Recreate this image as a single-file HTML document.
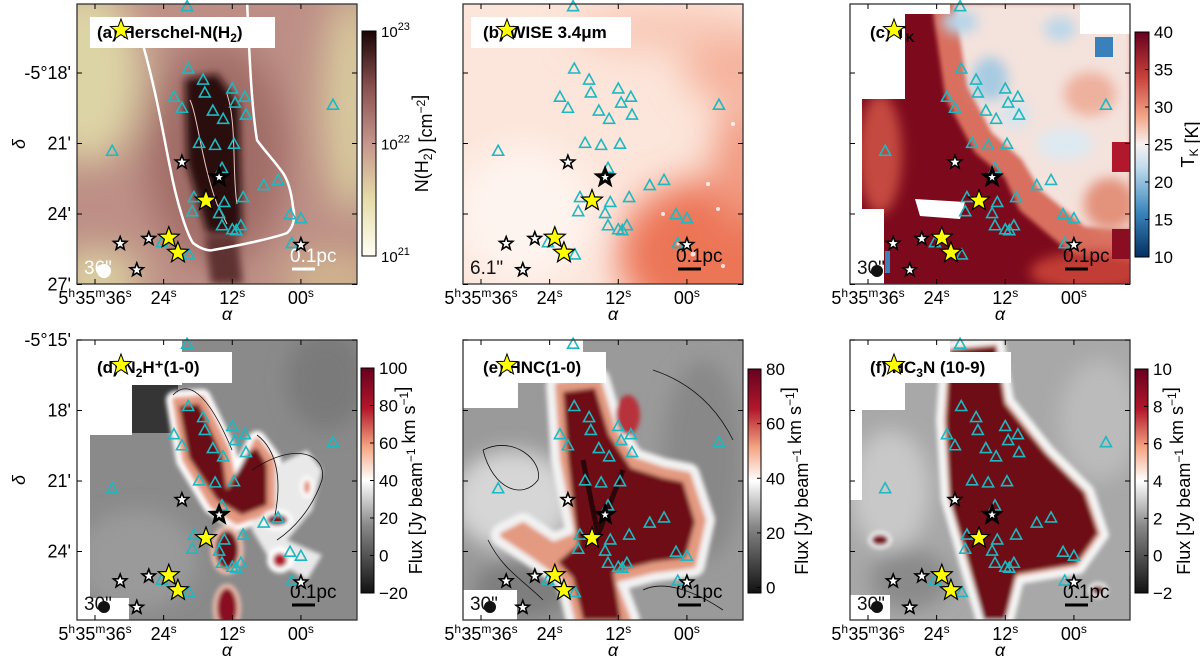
<!DOCTYPE html>
<html><head><meta charset="utf-8"><style>
html,body{margin:0;padding:0;background:#fff;}
svg{display:block;font-family:"Liberation Sans",sans-serif;}
</style></head><body>
<svg id="fig" width="1200" height="660" viewBox="0 0 1200 660" xmlns="http://www.w3.org/2000/svg">
<defs>
<filter id="b2" x="-20%" y="-20%" width="140%" height="140%"><feGaussianBlur stdDeviation="2"/></filter>
<filter id="b4" x="-20%" y="-20%" width="140%" height="140%"><feGaussianBlur stdDeviation="4"/></filter>
<filter id="b6" x="-50%" y="-50%" width="200%" height="200%"><feGaussianBlur stdDeviation="6"/></filter>
<filter id="b10" x="-50%" y="-50%" width="200%" height="200%"><feGaussianBlur stdDeviation="10"/></filter>
<filter id="b18" x="-50%" y="-50%" width="200%" height="200%"><feGaussianBlur stdDeviation="18"/></filter>
<clipPath id="clip"><rect x="0" y="0" width="280" height="280"/></clipPath>
<linearGradient id="gA" x1="0" y1="1" x2="0" y2="0"><stop offset="0" stop-color="#fffff4"/><stop offset="0.25" stop-color="#e6dcaa"/><stop offset="0.5" stop-color="#c4968c"/><stop offset="0.75" stop-color="#8a5050"/><stop offset="1" stop-color="#1a0404"/></linearGradient>
<linearGradient id="gC" x1="0" y1="1" x2="0" y2="0"><stop offset="0" stop-color="#053061"/><stop offset="0.2" stop-color="#3a86bd"/><stop offset="0.4" stop-color="#c2dced"/><stop offset="0.5" stop-color="#f7f2f0"/><stop offset="0.62" stop-color="#f4a88a"/><stop offset="0.8" stop-color="#c7413a"/><stop offset="1" stop-color="#67001f"/></linearGradient>
<linearGradient id="gF" x1="0" y1="1" x2="0" y2="0"><stop offset="0" stop-color="#111"/><stop offset="0.3" stop-color="#888"/><stop offset="0.5" stop-color="#fff"/><stop offset="0.65" stop-color="#f4a582"/><stop offset="0.82" stop-color="#b2182b"/><stop offset="1" stop-color="#67001f"/></linearGradient>
</defs>

<g id="pa" transform="translate(77,4)">
 <g clip-path="url(#clip)">
  <rect width="280" height="280" fill="#bd8f86"/>
  <g filter="url(#b18)">
   <ellipse cx="10" cy="70" rx="55" ry="90" fill="#ddd4a6"/>
   <ellipse cx="275" cy="100" rx="30" ry="110" fill="#d8cb9e"/>
   <ellipse cx="20" cy="275" rx="45" ry="30" fill="#dbd1a2"/>
   <ellipse cx="255" cy="275" rx="50" ry="25" fill="#d2b890"/>
   <ellipse cx="140" cy="150" rx="70" ry="110" fill="#a06c66"/>
  </g>
  <g filter="url(#b4)">
   <polygon points="108,75 140,70 162,100 165,229 130,229 110,160" fill="#2b0f0f"/>
   <polygon points="128,232 160,232 166,280 134,280" fill="#5e3230"/>
  </g>
  <path d="M113,96 C120,110 125,160 140,200 L150,220 M150,90 C160,120 155,170 160,200" stroke="#e8c8c0" stroke-width="1" fill="none"/>
  <path d="M66,41 C80,90 88,140 93,163 C100,200 110,230 116,239 C125,246 133,247 136,246 C170,240 200,233 210,229 C218,222 218,210 216,203 C214,185 210,175 206,169 C196,155 186,145 180,136 C174,100 172,40 170,-4" stroke="#fff" stroke-width="2.5" fill="none"/>
 </g>
</g>

<g id="pb" transform="translate(463,4)">
 <g clip-path="url(#clip)">
  <rect width="280" height="280" fill="#fce5da"/>
  <g filter="url(#b18)">
   <ellipse cx="250" cy="250" rx="95" ry="75" fill="#ec7556"/>
   <ellipse cx="270" cy="60" rx="50" ry="40" fill="#f5b29c"/>
   <ellipse cx="200" cy="25" rx="90" ry="22" fill="#f8c7b5"/>
   <ellipse cx="280" cy="160" rx="30" ry="60" fill="#f19a80"/>
   <ellipse cx="60" cy="210" rx="70" ry="70" fill="#fef4ef"/>
  </g>
  <g fill="#fff" opacity="0.8"><circle cx="200" cy="210" r="2"/><circle cx="230" cy="250" r="2.5"/><circle cx="255" cy="205" r="2"/><circle cx="260" cy="262" r="2"/><circle cx="215" cy="240" r="1.5"/><circle cx="245" cy="180" r="2"/><circle cx="270" cy="120" r="2"/></g>
 </g>
</g>

<g id="pc" transform="translate(850,4)">
 <g clip-path="url(#clip)">
  <rect width="280" height="280" fill="#7d0a1c"/>
  <g filter="url(#b2)">
   <polygon points="95,0 280,0 280,250 230,240 180,198 165,165 135,140 108,90" fill="#d9705e" stroke="#d9705e" stroke-width="26" stroke-linejoin="round"/>
   <polygon points="105,0 280,0 280,225 235,222 190,185 172,155 142,128 118,82" fill="#f4e2dc"/>
  </g>
  <g filter="url(#b6)">
   <ellipse cx="140" cy="75" rx="18" ry="22" fill="#a8cbe2"/>
   <ellipse cx="110" cy="18" rx="18" ry="12" fill="#b8d5e8"/>
   <ellipse cx="210" cy="25" rx="16" ry="12" fill="#bcd7e9"/>
   <ellipse cx="215" cy="140" rx="28" ry="16" fill="#dde9f1"/>
   <ellipse cx="165" cy="110" rx="15" ry="15" fill="#d5e5ef"/>
   <ellipse cx="240" cy="90" rx="26" ry="22" fill="#eeb19e"/>
   <ellipse cx="260" cy="200" rx="26" ry="26" fill="#e3927c"/>
   <ellipse cx="240" cy="268" rx="60" ry="20" fill="#c23c36"/>
   <ellipse cx="30" cy="150" rx="22" ry="60" fill="#c44a40"/>
  </g>
  <rect x="262" y="138" width="18" height="30" fill="#b2182b"/>
  <rect x="262" y="225" width="18" height="30" fill="#8a0d22"/>
  <rect x="0" y="0" width="55" height="95" fill="#fff"/>
  <rect x="55" y="0" width="45" height="10" fill="#fff"/>
  <rect x="0" y="95" width="12" height="110" fill="#fff"/>
  <rect x="0" y="205" width="34" height="75" fill="#fff"/>
  <polygon points="65,195 115,198 110,215 70,212" fill="#fff"/>
  <rect x="230" y="0" width="50" height="30" fill="#fff"/>
  <rect x="245" y="33" width="18" height="20" fill="#3a80bb"/>
  <rect x="35" y="247" width="5" height="22" fill="#3a80bb"/>
 </g>
</g>

<g id="pd" transform="translate(77,340)">
 <g clip-path="url(#clip)">
  <rect width="280" height="280" fill="#8a8a8a"/>
  <g filter="url(#b10)"><ellipse cx="60" cy="220" rx="60" ry="50" fill="#9a9a9a"/><ellipse cx="250" cy="40" rx="40" ry="50" fill="#7a7a7a"/></g>
  <rect x="53" y="43" width="48" height="50" fill="#353535"/>
  <g filter="url(#b2)">
   <path d="M98,60 L125,58 L150,110 L158,150 L170,120 L180,100 L195,120 L195,170 L160,182 L135,165 L108,120 Z" fill="#fff" stroke="#fff" stroke-width="18" stroke-linejoin="round"/>
   <path d="M180,135 L230,110 L245,130 L235,170 L210,200 L245,215 L230,240 L190,215 L175,190 Z" fill="#e9e9e9"/>
   <path d="M98,60 L125,58 L150,110 L158,150 L170,120 L180,100 L195,120 L195,170 L160,182 L135,165 L108,120 Z" fill="#e49a80" stroke="#e49a80" stroke-width="6" stroke-linejoin="round"/>
   <path d="M102,66 L122,64 L145,115 L150,150 L172,112 L180,108 L190,125 L190,165 L165,175 L140,160 L112,118 Z" fill="#6b0a14"/>
   <ellipse cx="150" cy="210" rx="14" ry="22" fill="#6b0a14" stroke="#f0c0b0" stroke-width="5"/>
   <ellipse cx="150" cy="268" rx="12" ry="22" fill="#8a1020" stroke="#f0c0b0" stroke-width="4"/>
   <ellipse cx="200" cy="180" rx="13" ry="8" fill="#7a0a18" stroke="#fff" stroke-width="5"/>
   <ellipse cx="203" cy="220" rx="10" ry="10" fill="#b2182b" stroke="#fff" stroke-width="6"/>
   <ellipse cx="230" cy="147" rx="5" ry="9" fill="#e08060" stroke="#fff" stroke-width="4"/>
  </g>
  <rect x="0" y="0" width="55" height="95" fill="#fff"/>
  <rect x="0" y="0" width="105" height="45" fill="#fff"/>
  <rect x="0" y="95" width="13" height="185" fill="#fff"/>
  <rect x="0" y="258" width="52" height="22" fill="#fff"/>
  <path d="M96,55 C110,40 130,50 155,110 M180,95 C200,110 205,140 198,175 M175,130 C220,100 250,115 245,140 C235,170 215,190 200,200" stroke="#111" stroke-width="0.8" fill="none"/>
 </g>
</g>

<g id="pe" transform="translate(463,340)">
 <g clip-path="url(#clip)">
  <rect width="280" height="280" fill="#9a9a9a"/>
  <g filter="url(#b10)">
   <ellipse cx="50" cy="160" rx="60" ry="50" fill="#d6d6d6"/>
   <ellipse cx="240" cy="120" rx="40" ry="100" fill="#888"/>
   <ellipse cx="60" cy="250" rx="50" ry="30" fill="#7e7e7e"/>
  </g>
  <g filter="url(#b2)">
   <path d="M95,45 L135,40 L150,90 L170,120 L200,130 L225,135 L240,180 L230,225 L190,230 L150,240 L165,280 L115,280 L105,240 L70,215 L40,195 L60,185 L90,205 L115,195 L100,120 Z" fill="#f2f2f2" stroke="#f2f2f2" stroke-width="24" stroke-linejoin="round"/>
   <path d="M95,45 L135,40 L150,90 L170,120 L200,130 L225,135 L240,180 L230,225 L190,230 L150,240 L165,280 L115,280 L105,240 L70,215 L40,195 L60,185 L90,205 L115,195 L100,120 Z" fill="#e39a80" stroke="#e39a80" stroke-width="6" stroke-linejoin="round"/>
   <path d="M100,52 L132,48 L146,95 L168,128 L200,138 L220,142 L232,182 L222,218 L190,222 L150,232 L158,280 L120,280 L110,238 L95,222 L115,205 L105,120 Z" fill="#6e0a16"/>
   <ellipse cx="165" cy="75" rx="12" ry="20" fill="#b8303a"/>
  </g>
  <path d="M120,120 L135,195 L160,130" stroke="#000" stroke-width="5" fill="none" opacity="0.6"/>
  <rect x="0" y="0" width="55" height="68" fill="#fff"/>
  <rect x="0" y="0" width="120" height="42" fill="#fff"/>
  <rect x="0" y="250" width="54" height="30" fill="#fff"/>
  <path d="M20,110 C50,95 80,120 75,140 C60,160 30,150 20,110 M190,30 C220,40 250,60 270,100 M180,250 C200,240 230,250 260,270 M25,200 C40,230 60,240 80,260" stroke="#111" stroke-width="0.8" fill="none"/>
 </g>
</g>

<g id="pf" transform="translate(850,340)">
 <g clip-path="url(#clip)">
  <rect width="280" height="280" fill="#a8a8a8"/>
  <g filter="url(#b10)">
   <ellipse cx="40" cy="150" rx="40" ry="60" fill="#c8c8c8"/>
   <ellipse cx="250" cy="80" rx="40" ry="60" fill="#bbb"/>
   <ellipse cx="60" cy="240" rx="40" ry="30" fill="#8a8a8a"/>
  </g>
  <g filter="url(#b2)">
   <path d="M95,5 L150,0 L160,60 L200,110 L240,150 L255,195 L230,230 L170,240 L160,280 L130,280 L115,230 L95,160 L90,80 Z" fill="#e6a088" stroke="#f4f4f4" stroke-width="8" stroke-linejoin="round"/>
   <path d="M100,10 L146,6 L155,64 L196,114 L234,152 L248,193 L226,224 L166,234 L155,280 L134,280 L120,228 L100,160 L96,80 Z" fill="#6e0a16"/>
   <ellipse cx="30" cy="200" rx="10" ry="7" fill="#7a0a18" stroke="#fff" stroke-width="3"/>
   <ellipse cx="248" cy="250" rx="8" ry="6" fill="#7a0a18" stroke="#fff" stroke-width="3"/>
  </g>
  <rect x="0" y="0" width="55" height="70" fill="#fff"/>
  <rect x="0" y="0" width="100" height="42" fill="#fff"/>
  <rect x="0" y="70" width="12" height="90" fill="#fff"/>
  <rect x="0" y="255" width="40" height="25" fill="#fff"/>
 </g>
</g>

<g id="overlay"></g>
</svg>
<script>
// ---- data (RA seconds after 5h35m, Dec arcmin below -5°) ----
const triRA  = [19.9,19.7,17.1,16.8,22.2,20.8,12.0,11.5,9.8,15.4,13.6,9.6,-5.6,17.8,15.0,11.7,33.0,13.8,6.5,4.0,18.7,13.4,19.0,14.3,10.1,1.9,0.0,13.8,12.0,11.3,10.5,24.3,19.6,1.6];
const triDec = [15.18,17.83,18.30,18.85,19.03,19.50,18.68,19.28,19.03,19.62,19.97,19.79,19.37,20.99,21.08,21.03,21.33,22.06,22.79,22.57,23.30,23.51,23.90,23.98,23.30,24.03,24.20,24.50,24.67,24.71,24.50,25.22,25.74,25.26];
const starRA  = [20.8,31.6,26.6,28.7,0.0];
const starDec = [21.80,25.26,25.05,26.38,25.31];
const bigRA = [14.3], bigDec = [22.44];
const yelRA = [16.6,23.1,21.5];
const yelDec = [23.43,25.01,25.65];
const xTickRA = [36,24,12,0];
const xTickLbl = [["5","h","35","m","36","s"],["","","","","24","s"],["","","","","12","s"],["","","","","00","s"]];
const yTickDecTop = [18,21,24,27];
const yTickLblTop = ["-5°18'","21'","24'","27'"];
const yTickDecBot = [15,18,21,24];
const yTickLblBot = ["-5°15'","18'","21'","24'"];
const cbAvals = [21,22,23];
const cbCvals = [10,15,20,25,30,35,40];
const cbDvals = [-20,0,20,40,60,80,100];
const cbEvals = [0,20,40,60,80];
const cbFvals = [-2,0,2,4,6,8,10];

const NS="http://www.w3.org/2000/svg";
const fig=document.getElementById('overlay');
function mk(tag,attrs,parent){const e=document.createElementNS(NS,tag);for(const k in attrs)e.setAttribute(k,attrs[k]);(parent||fig).appendChild(e);return e;}
const xr = ra => 18 + (36-ra)*5.72;
const yrTop = d => 69 + (d-18)*23.5;
const yrBot = d => (d-15)*23.5;
function starPts(cx,cy,R){const r=R*0.42;let p=[];for(let i=0;i<10;i++){const a=-Math.PI/2+i*Math.PI/5;const rr=i%2?r:R;p.push((cx+rr*Math.cos(a)).toFixed(1)+','+(cy+rr*Math.sin(a)).toFixed(1));}return p.join(' ');}

const panels=[
 {id:'a',x:77,y:4,top:true,label:'(a) Herschel-N(H',sub:'2',tail:')',box:[13,13,185,31],beam:'36"',beamCol:'#fff',barCol:'#fff',showY:true},
 {id:'b',x:463,y:4,top:true,label:'(b) WISE 3.4μm',box:[8,13,160,31],beam:'6.1"',beamCol:'#111',barCol:'#000',noCircle:true},
 {id:'c',x:850,y:4,top:true,label:'(c) T',sub:'K',tail:'',box:null,beam:'30"',beamCol:'#111',barCol:'#000'},
 {id:'d',x:77,y:340,top:false,label:'(d) N',sub:'2',tail:'H⁺(1-0)',box:[13,12,142,31],beam:'30"',beamCol:'#111',barCol:'#000',showY:true},
 {id:'e',x:463,y:340,top:false,label:'(e) HNC(1-0)',box:[13,12,130,31],beam:'30"',beamCol:'#111',barCol:'#000'},
 {id:'f',x:850,y:340,top:false,label:'(f) HC',sub:'3',tail:'N (10-9)',box:[13,12,148,31],beam:'30"',beamCol:'#111',barCol:'#000'}
];

panels.forEach(p=>{
 const g=mk('g',{transform:`translate(${p.x},${p.y})`});
 
 
 const yr = p.top? yrTop : yrBot;
 if(p.box){const b=mk('rect',{x:p.box[0],y:p.box[1],width:p.box[2],height:p.box[3],fill:'#fff'},g);
  
  }
 const t=mk('text',{x:20,y:p.top?34:33,'font-size':'17','font-weight':'bold',fill:'#000'},g);
 
 
 t.appendChild(document.createTextNode(p.label));
 if(p.sub){const s=mk('tspan',{'font-size':'12',dy:'4'},t);s.textContent=p.sub;const tl=mk('tspan',{'font-size':'17',dy:'-4'},t);tl.textContent=p.tail;}
 const ts=mk('polygon',{points:starPts(44,p.top?26:25,11),fill:'#ffff00',stroke:'#000','stroke-width':'1'},g);
 
 
 const bt=mk('text',{x:7,y:270,'font-size':'19',fill:p.beamCol},g);bt.textContent=p.beam;
 
 
 if(!p.noCircle){const c=mk('circle',{cx:27,cy:267,r:p.id==='a'?7:6,fill:p.beamCol},g);
  
  }
 const sb=mk('text',{x:213,y:258,'font-size':'19',fill:p.barCol},g);sb.textContent='0.1pc';
 
 
 const sl=mk('line',{x1:215,x2:238,y1:265,y2:265,stroke:p.barCol,'stroke-width':'3'},g);
 
 
 triRA.forEach((ra,i)=>{const x=xr(ra),y=yr(triDec[i]);
  const m=mk('polygon',{points:`${x},${y-6} ${x+5.5},${y+4} ${x-5.5},${y+4}`,fill:'none',stroke:'#1fb8c0','stroke-width':'1.6'},g);
  
  });
 starRA.forEach((ra,i)=>{const m=mk('polygon',{points:starPts(xr(ra),yr(starDec[i]),7),fill:'#fff',stroke:'#000','stroke-width':'1.6'},g);
  
  });
 bigRA.forEach((ra,i)=>{const m=mk('polygon',{points:starPts(xr(ra),yr(bigDec[i]),11),fill:'#000',stroke:'#000','stroke-width':'1'},g);
  
  
  const m2=mk('polygon',{points:starPts(xr(ra),yr(bigDec[i]),4),fill:'#fff'},g);
  
  });
 yelRA.forEach((ra,i)=>{const m=mk('polygon',{points:starPts(xr(ra),yr(yelDec[i]),11),fill:'#ffff00',stroke:'#000','stroke-width':'1.2'},g);
  
  });
 const fr=mk('rect',{x:0,y:0,width:280,height:280,fill:'none',stroke:'#333','stroke-width':'1.3'},g);
 
 
 xTickRA.forEach((ra,i)=>{const x=xr(ra);
  const t1=mk('line',{x1:x,x2:x,y1:280,y2:275,stroke:'#000'},g);
  
  
  const t2=mk('line',{x1:x,x2:x,y1:0,y2:5,stroke:'#000'},g);
  
  
  const L=xTickLbl[i];
  const tx=mk('text',{x:x,y:300,'font-size':'18','text-anchor':'middle'},g);
  
  
  for(let k=0;k<6;k+=2){if(L[k]===''&&L[k+1]==='')continue;const a=mk('tspan',{},tx);a.textContent=L[k];const b=mk('tspan',{'font-size':'12',dy:'-7'},tx);b.textContent=L[k+1];const c=mk('tspan',{dy:'7','font-size':'1'},tx);c.textContent=' ';}
 });
 const al=mk('text',{x:150,y:316,'font-size':'18','font-style':'italic','text-anchor':'middle'},g);al.textContent='α';
 
 
 const decs=p.top?yTickDecTop:yTickDecBot, lbls=p.top?yTickLblTop:yTickLblBot;
 decs.forEach((d,i)=>{const y=yr(d);
  const t1=mk('line',{x1:0,x2:5,y1:y,y2:y,stroke:'#000'},g);
  
  
  const t2=mk('line',{x1:280,x2:275,y1:y,y2:y,stroke:'#000'},g);
  
  
  if(p.showY){const tx=mk('text',{x:-6,y:y+6,'font-size':'18','text-anchor':'end'},g);tx.textContent=lbls[i];
   
   }
 });
 if(p.showY){const dl=mk('text',{x:0,y:0,'font-size':'18','font-style':'italic','text-anchor':'middle',transform:'translate(-52,140) rotate(-90)'},g);dl.textContent='δ';
  
  }
});

const cbs=[
 {id:'a',x:362,y:31,w:14,h:225,grad:'gA',vals:cbAvals,min:21,max:23,log:true,lx:428,title:'N(H2) [cm-2]'},
 {id:'c',x:1135,y:32,w:14,h:225,grad:'gC',vals:cbCvals,min:10,max:40,lx:1194,title:'TK [K]'},
 {id:'d',x:361,y:368,w:13,h:225,grad:'gF',vals:cbDvals,min:-20,max:100,lx:422,title:'flux'},
 {id:'e',x:748,y:369,w:13,h:224,grad:'gF',vals:cbEvals,min:-2,max:80,lx:808,title:'flux'},
 {id:'f',x:1135,y:369,w:13,h:224,grad:'gF',vals:cbFvals,min:-2,max:10,lx:1190,title:'flux'}
];
cbs.forEach(c=>{
 const r=mk('rect',{x:c.x,y:c.y,width:c.w,height:c.h,fill:`url(#${c.grad})`,stroke:'#000','stroke-width':'1'});
 
 
 const cy=v=>c.y+c.h-(v-c.min)/(c.max-c.min)*c.h;
 c.vals.forEach(v=>{const y=cy(v);
  const tk=mk('line',{x1:c.x+c.w-4,x2:c.x+c.w,y1:y,y2:y,stroke:'#000'});
  
  
  const t=mk('text',{x:c.x+c.w+5,y:y+6,'font-size':'17'});
  
  
  if(c.log){const a=mk('tspan',{'font-size':'15'},t);a.textContent='10';const b=mk('tspan',{'font-size':'11',dy:'-7'},t);b.textContent=String(v);}
  else t.textContent=(v<0?'−'+(-v):String(v));
 });
 const cyMid=c.y+c.h/2;
 const lt=mk('text',{x:0,y:0,'font-size':'18','text-anchor':'middle',transform:`translate(${c.lx},${cyMid}) rotate(-90)`});
 
 
 function add(txt,sup,sub){const s=mk('tspan',{},lt);s.textContent=txt;if(sup){const u=mk('tspan',{'font-size':'12',dy:'-7'},lt);u.textContent=sup;const z=mk('tspan',{dy:'7'},lt);z.textContent='';}if(sub){const u=mk('tspan',{'font-size':'12',dy:'4'},lt);u.textContent=sub;const z=mk('tspan',{dy:'-4'},lt);z.textContent='';}}
 if(c.title==='flux'){add('Flux [Jy beam');add('','−1');add(' km s');add('','−1');add(']');}
 else if(c.id==='a'){add('N(H');add('',null,'2');add(') [cm');add('','−2');add(']');}
 else {add('T');add('',null,'K');add(' [K]');}
});
</script>
</body></html>
